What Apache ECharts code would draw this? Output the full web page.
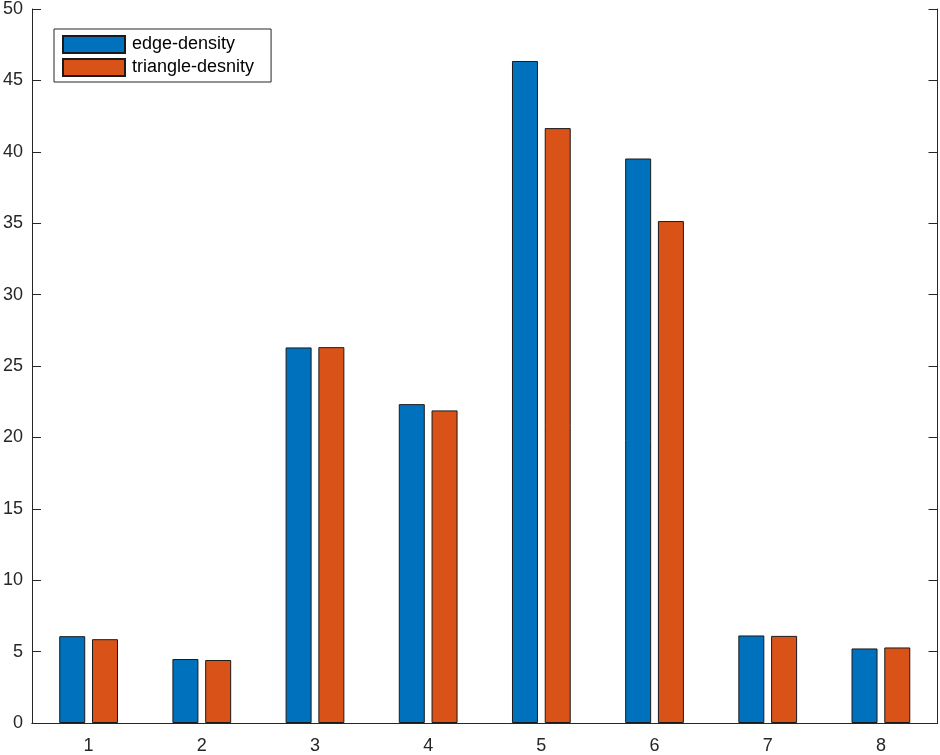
<!DOCTYPE html>
<html>
<head>
    <meta charset="UTF-8">
    <title></title>
    <script type="text/javascript" src="https://cdn.jsdelivr.net/npm/echarts@6/dist/echarts.min.js"></script>
</head>
<body style="margin:0;background:#fff">

<div id="main" style="height: 755px; width: 940px;"></div>
<script type="text/javascript">

    // data
    var categories = ['1', '2', '3', '4', '5', '6', '7', '8'];
    var edgeDensity = [6.08, 4.48, 26.3, 22.33, 46.36, 39.53, 6.13, 5.22];
    var triangleDensity = [5.87, 4.41, 26.32, 21.89, 41.66, 35.15, 6.1, 5.29];
    var seriesNames = ['edge-density', 'triangle-desnity'];

    var axisColor = '#262626';
    var font = 'Liberation Sans, Arial, Helvetica, sans-serif';

    var myChart = echarts.init(document.getElementById('main'));

    option = {
        animation: false,
        backgroundColor: '#fff',
        grid: {
            left: 32,
            right: 2.5,
            top: 8,
            bottom: 32,
            containLabel: false
        },
        legend: {
            data: seriesNames,
            orient: 'vertical',
            left: 54,
            top: 29,
            padding: [6, 17, 5, 8],
            icon: 'rect',
            itemWidth: 62,
            itemHeight: 17,
            itemGap: 4,
            borderColor: '#262626',
            borderWidth: 1,
            backgroundColor: '#fff',
            textStyle: {
                fontFamily: font,
                fontSize: 18,
                color: '#000',
                padding: [0, 0, 0, 2]
            }
        },
        xAxis: [{
            type: 'category',
            data: categories,
            position: 'bottom',
            axisLine: { lineStyle: { color: axisColor, width: 1 } },
            axisTick: { inside: true, alignWithLabel: true, length: 8, lineStyle: { color: axisColor } },
            axisLabel: { fontFamily: font, fontSize: 18, color: '#262626', margin: 14 },
            splitLine: { show: false }
        }, {
            type: 'category',
            data: categories,
            position: 'top',
            axisLine: { lineStyle: { color: axisColor, width: 1 } },
            axisTick: { inside: true, alignWithLabel: true, length: 8, lineStyle: { color: axisColor } },
            axisLabel: { show: false },
            splitLine: { show: false }
        }],
        yAxis: [{
            type: 'value',
            min: 0,
            max: 50,
            interval: 5,
            position: 'left',
            axisLine: { show: true, lineStyle: { color: axisColor, width: 1 } },
            axisTick: { show: true, inside: true, length: 9, lineStyle: { color: axisColor } },
            axisLabel: { fontFamily: font, fontSize: 18, color: '#262626', margin: 9 },
            splitLine: { show: false }
        }, {
            type: 'value',
            min: 0,
            max: 50,
            interval: 5,
            position: 'right',
            axisLine: { show: true, lineStyle: { color: axisColor, width: 1 } },
            axisTick: { show: true, inside: true, length: 9, lineStyle: { color: axisColor } },
            axisLabel: { show: false },
            splitLine: { show: false }
        }],
        series: [{
            name: seriesNames[0],
            type: 'bar',
            data: edgeDensity,
            barWidth: 26,
            barGap: '26%',
            itemStyle: { color: '#0072BD', borderColor: '#1a1a1a', borderWidth: 1 }
        }, {
            name: seriesNames[1],
            type: 'bar',
            data: triangleDensity,
            barWidth: 26,
            barGap: '26%',
            itemStyle: { color: '#D95319', borderColor: '#1a1a1a', borderWidth: 1 }
        }]
    };

    myChart.setOption(option);

</script>

</body>
</html>
